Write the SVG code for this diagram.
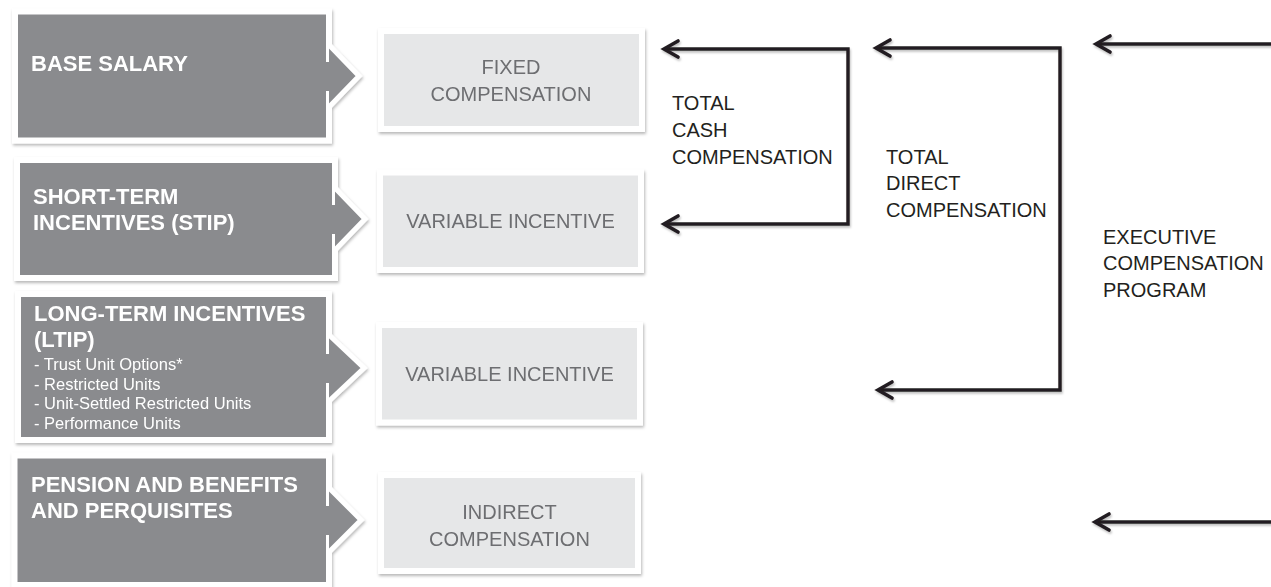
<svg xmlns="http://www.w3.org/2000/svg" width="1271" height="587" viewBox="0 0 1271 587">
<style>
.dark{fill:#8a8b8e;stroke:#fff;stroke-width:6}
.tri{fill:#8a8b8e}
.patch{fill:#8a8b8e}
.chev{fill:none;stroke:#fff;stroke-width:5;stroke-linejoin:miter;stroke-linecap:round}
.light{fill:#e6e7e8;stroke:#fff;stroke-width:6}
.th{font-family:"Liberation Sans",Arial,sans-serif;font-weight:bold;font-size:22px;fill:#fff}
.ts{font-family:"Liberation Sans",Arial,sans-serif;font-size:16.5px;fill:#fff}
.tl{font-family:"Liberation Sans",Arial,sans-serif;font-size:20px;fill:#6d6e71;text-anchor:middle}
.tr{font-family:"Liberation Sans",Arial,sans-serif;font-size:20px;fill:#231f20}
.conn{fill:none;stroke:#231f20;stroke-width:3.4;marker-end:url(#ah)}
.both{marker-start:url(#ah)}
</style>
<defs>
<filter id="sh" x="-10%" y="-10%" width="125%" height="130%">
<feDropShadow dx="1" dy="2" stdDeviation="1.5" flood-color="#000" flood-opacity="0.28"/>
</filter>
<filter id="ash" x="-5%" y="-20%" width="110%" height="160%">
<feDropShadow dx="1" dy="2" stdDeviation="1.2" flood-color="#000" flood-opacity="0.25"/>
</filter>
<marker id="ah" viewBox="-18 -11 22 22" refX="0" refY="0" markerWidth="22" markerHeight="22" markerUnits="userSpaceOnUse" orient="auto-start-reverse">
<path d="M-14,-8 L0,0 L-14,8" fill="none" stroke="#231f20" stroke-width="3.6" stroke-linecap="round" stroke-linejoin="miter"/>
</marker>
</defs>
<rect width="1271" height="587" fill="#fff"/>

<g id="base-salary" filter="url(#sh)">
<rect class="dark" x="15" y="11.5" width="314" height="129"/>
<polygon class="tri" points="329,45 359,76 329,107"/>
<rect class="patch" x="324" y="62" width="9" height="29"/>
<polyline class="chev" points="329,45 359,76 329,107"/>
<text class="th" x="31" y="71">BASE SALARY</text>
</g>

<g id="stip" filter="url(#sh)">
<rect class="dark" x="17" y="160" width="318" height="118"/>
<polygon class="tri" points="335,188 365,219 335,250"/>
<rect class="patch" x="330" y="205" width="9" height="29"/>
<polyline class="chev" points="335,188 365,219 335,250"/>
<text class="th" x="33" y="204">SHORT-TERM</text>
<text class="th" x="33" y="230">INCENTIVES (STIP)</text>
</g>

<g id="ltip" filter="url(#sh)">
<rect class="dark" x="18" y="294" width="311" height="146"/>
<polygon class="tri" points="329,335 364,368 329,401"/>
<rect class="patch" x="324" y="354" width="9" height="29"/>
<polyline class="chev" points="329,335 364,368 329,401"/>
<text class="th" x="34" y="321">LONG-TERM INCENTIVES</text>
<text class="th" x="34" y="347">(LTIP)</text>
<text class="ts" x="34" y="370">- Trust Unit Options*</text>
<text class="ts" x="34" y="389.5">- Restricted Units</text>
<text class="ts" x="34" y="409">- Unit-Settled Restricted Units</text>
<text class="ts" x="34" y="428.5">- Performance Units</text>
</g>

<g id="pension" filter="url(#sh)">
<rect class="dark" x="14.5" y="455.5" width="314.5" height="129.5"/>
<polygon class="tri" points="329,488 361,520 329,552"/>
<rect class="patch" x="324" y="506" width="9" height="29"/>
<polyline class="chev" points="329,488 361,520 329,552"/>
<text class="th" x="31" y="492">PENSION AND BENEFITS</text>
<text class="th" x="31" y="518">AND PERQUISITES</text>
</g>

<g id="fixed-compensation" filter="url(#sh)">
<rect class="light" x="381" y="31" width="261" height="98"/>
<text class="tl" x="511" y="74">FIXED</text>
<text class="tl" x="511" y="101">COMPENSATION</text>
</g>

<g id="variable-incentive-1" filter="url(#sh)">
<rect class="light" x="380" y="172.5" width="261" height="97.5"/>
<text class="tl" x="510.5" y="228">VARIABLE INCENTIVE</text>
</g>

<g id="variable-incentive-2" filter="url(#sh)">
<rect class="light" x="379" y="325" width="261" height="97.5"/>
<text class="tl" x="509.5" y="381">VARIABLE INCENTIVE</text>
</g>

<g id="indirect-compensation" filter="url(#sh)">
<rect class="light" x="381" y="475" width="257" height="96"/>
<text class="tl" x="509.5" y="519">INDIRECT</text>
<text class="tl" x="509.5" y="546">COMPENSATION</text>
</g>

<g id="connectors" filter="url(#ash)">
<path class="conn both" d="M664,49 H848 V224 H664"/>
<path class="conn both" d="M876,48 H1060 V390 H878"/>
<path class="conn" d="M1272,44 H1096"/>
<path class="conn" d="M1272,522 H1095"/>
</g>

<g id="label-total-cash">
<text class="tr" x="672" y="110">TOTAL</text>
<text class="tr" x="672" y="137">CASH</text>
<text class="tr" x="672" y="164">COMPENSATION</text>
</g>
<g id="label-total-direct">
<text class="tr" x="886" y="164">TOTAL</text>
<text class="tr" x="886" y="190">DIRECT</text>
<text class="tr" x="886" y="217">COMPENSATION</text>
</g>
<g id="label-executive">
<text class="tr" x="1103" y="244">EXECUTIVE</text>
<text class="tr" x="1103" y="270">COMPENSATION</text>
<text class="tr" x="1103" y="297">PROGRAM</text>
</g>
</svg>
